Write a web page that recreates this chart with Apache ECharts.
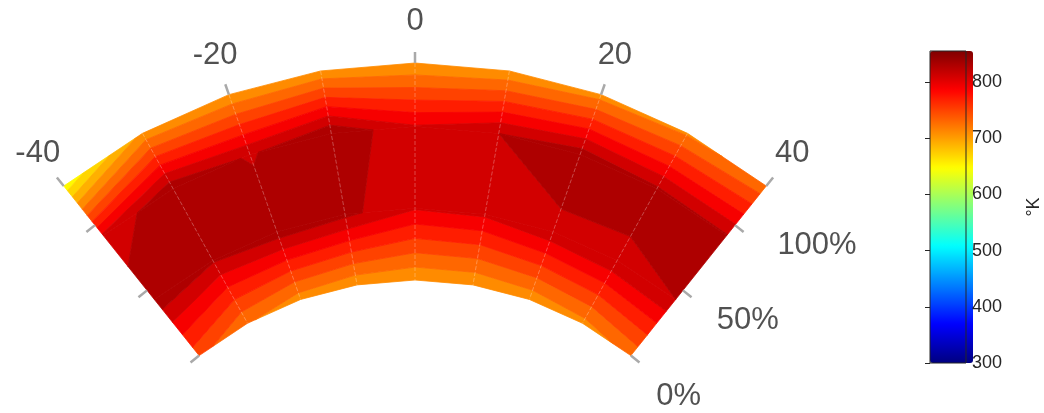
<!DOCTYPE html>
<html>
<head>
<meta charset="utf-8">
<script src="https://cdn.jsdelivr.net/npm/echarts@6/dist/echarts.min.js"></script>
<style>
html,body{margin:0;padding:0;background:#ffffff;}
#chart{width:1044px;height:413px;}
</style>
</head>
<body>
<div id="chart"></div>
<script>
// ---- data ----
const angles = [-40, -30, -20, -10, 0, 10, 20, 30, 40];          // degrees
const radii = [0, 43, 92, 130];                                   // radial position (%)
// temperature (°K) at each grid node, one array per radial ring (inner -> outer)
const tempRing0 = [757, 732, 718, 713, 712, 712, 715, 722, 735];
const tempRing1 = [846, 833, 842, 836, 812, 814, 825, 828, 830];
const tempRing2 = [815, 846, 828, 848, 812, 830, 842, 834, 832];
const tempRing3 = [655, 715, 712, 713, 711, 713, 720, 726, 735];
const contourLevels = [650, 670, 690, 710, 730, 750, 770, 790, 810, 830, 850];
const angleTicks = [-40, -20, 0, 20, 40];
const radialTicks = [0, 50, 100];
const radialTickLabels = ['0%', '50%', '100%'];
const colorTicks = [300, 400, 500, 600, 700, 800];
const colorMin = 300, colorMax = 855;
const jetColors = ['#000080', '#0000ff', '#0080ff', '#00ffff', '#80ff80', '#ffff00', '#ff8000', '#ff0000', '#800000'];

const temps = [tempRing0, tempRing1, tempRing2, tempRing3];
const FONT = "'Liberation Sans', Arial, Helvetica, sans-serif";

// one item per (grid cell, contour band) that the band touches
const bandItems = [];
for (let j = 0; j < radii.length - 1; j++) {
  for (let i = 0; i < angles.length - 1; i++) {
    const v = [temps[j][i], temps[j][i + 1], temps[j + 1][i + 1], temps[j + 1][i]];
    const mn = Math.min(...v), mx = Math.max(...v);
    for (let k = 0; k < contourLevels.length; k++) {
      const lo = k === 0 ? -Infinity : contourLevels[k];
      const hi = k + 1 < contourLevels.length ? contourLevels[k + 1] : Infinity;
      if (mx < lo || mn >= hi) continue;
      bandItems.push([radii[j], angles[i], contourLevels[k], j, i, k]);
    }
  }
}

function clipPoly(pts, thr, keepAbove) {
  const out = [];
  const n = pts.length;
  for (let a = 0; a < n; a++) {
    const p = pts[a], q = pts[(a + 1) % n];
    const pin = keepAbove ? p.v >= thr : p.v < thr;
    const qin = keepAbove ? q.v >= thr : q.v < thr;
    if (pin) out.push(p);
    if (pin !== qin) {
      const t = (thr - p.v) / (q.v - p.v);
      out.push({x: p.x + t * (q.x - p.x), y: p.y + t * (q.y - p.y), v: thr});
    }
  }
  return out;
}

function renderBand(params, api) {
  const j = api.value(3), i = api.value(4), k = api.value(5);
  const lo = k === 0 ? -Infinity : contourLevels[k];
  const hi = k + 1 < contourLevels.length ? contourLevels[k + 1] : Infinity;
  const idx = [[j, i], [j, i + 1], [j + 1, i + 1], [j + 1, i]];
  let poly = idx.map(([jj, ii]) => {
    const p = api.coord([radii[jj], angles[ii]]);
    return {x: p[0], y: p[1], v: temps[jj][ii]};
  });
  if (lo !== -Infinity) poly = clipPoly(poly, lo, true);
  if (poly.length >= 3 && hi !== Infinity) poly = clipPoly(poly, hi, false);
  if (poly.length < 3) return null;
  const c = api.visual('color');
  return {
    type: 'polygon',
    shape: {points: poly.map(p => [p.x, p.y])},
    style: {fill: c, stroke: c, lineWidth: 0.8}
  };
}

const tickStyle = {color: '#a9a9a9', width: 2.5};
const gridLine = 'rgba(255,255,255,0.28)';
// radial tick labels sit on a line parallel to the right edge, slightly more spread than the ticks
const radialLabelSpread = 1.162, radialLabelShift = -9.6;

const option = {
  animation: false,
  backgroundColor: '#ffffff',
  polar: [
    {center: [415, 626], radius: [346, 563]},
    {center: [415, 626], radius: [346, 563]}
  ],
  angleAxis: [
    {
      polarIndex: 0, type: 'value', min: -40, max: 40, interval: 20,
      startAngle: 128.6, endAngle: 51.4, clockwise: true, z: 3,
      axisLine: {show: false},
      axisTick: {show: true, length: 11, lineStyle: tickStyle},
      axisLabel: {show: false},
      splitLine: {show: true, lineStyle: {type: 'dashed', width: 1,
        color: ['rgba(255,255,255,0)', gridLine, gridLine, gridLine, 'rgba(255,255,255,0)']}},
      minorTick: {show: false, splitNumber: 2},
      minorSplitLine: {show: true, lineStyle: {type: 'dashed', width: 1, color: gridLine}}
    },
    {
      polarIndex: 1, type: 'value', min: -40, max: 40, interval: 20,
      startAngle: 51.4, endAngle: 128.6, clockwise: false,
      axisLine: {show: false}, axisTick: {show: false}, axisLabel: {show: false},
      splitLine: {show: false}
    }
  ],
  radiusAxis: [
    {
      polarIndex: 0, type: 'value', min: 0, max: 130, z: 3,
      axisLine: {show: false},
      axisTick: {show: true, length: 11, customValues: radialTicks, lineStyle: tickStyle},
      axisLabel: {show: false},
      splitLine: {show: false}
    },
    {
      polarIndex: 1, type: 'value', min: 0, max: 130, z: 3,
      axisLine: {show: false},
      axisTick: {show: true, length: -11, customValues: radialTicks, lineStyle: tickStyle},
      axisLabel: {show: false},
      splitLine: {show: false}
    }
  ],
  grid: {
    left: 930, top: 51, width: 43, height: 312, show: true, z: 10,
    borderColor: '#262626', borderWidth: 1, backgroundColor: 'rgba(0,0,0,0)'
  },
  xAxis: {type: 'value', show: false, min: 0, max: 1},
  yAxis: {
    type: 'value', min: colorMin, max: colorMax, position: 'right', z: 10,
    axisLine: {show: false},
    axisTick: {show: true, inside: true, length: 5, customValues: colorTicks, lineStyle: {color: '#262626'}},
    axisLabel: {show: true, customValues: colorTicks, fontSize: 18, color: '#262626', fontFamily: FONT, margin: 6},
    splitLine: {show: false},
    name: '°K', nameLocation: 'middle', nameRotate: 90, nameGap: 59,
    nameTextStyle: {fontSize: 18, color: '#262626', fontFamily: FONT}
  },
  visualMap: {
    type: 'continuous', min: colorMin, max: colorMax, dimension: 2, seriesIndex: 0,
    left: 930, top: 51, itemWidth: 43, itemHeight: 312, padding: 0,
    calculable: false, hoverLink: false, text: null, orient: 'vertical',
    inRange: {color: jetColors}
  },
  series: [
    {
      type: 'custom', coordinateSystem: 'polar', polarIndex: 0,
      renderItem: renderBand, data: bandItems, silent: true, z: 2
    },
    {
      type: 'scatter', coordinateSystem: 'polar', polarIndex: 0, clip: false, silent: true,
      symbolSize: 1, itemStyle: {color: 'rgba(0,0,0,0)'},
      data: angleTicks.map(a => [155, a]),
      label: {show: true, position: 'inside', formatter: p => String(angleTicks[p.dataIndex]),
        fontSize: 31, color: '#262626', fontFamily: FONT}
    },
    {
      type: 'scatter', coordinateSystem: 'polar', polarIndex: 0, clip: false, silent: true,
      symbolSize: 1, itemStyle: {color: 'rgba(0,0,0,0)'},
      data: radialTicks.map(r => [r * radialLabelSpread + radialLabelShift, 40]),
      label: {show: true, position: [36, 29], align: 'left', verticalAlign: 'middle',
        formatter: p => radialTickLabels[p.dataIndex],
        fontSize: 31, color: '#262626', fontFamily: FONT}
    }
  ]
};

const chart = echarts.init(document.getElementById('chart'), null, {renderer: 'canvas'});
chart.setOption(option);
</script>
</body>
</html>
